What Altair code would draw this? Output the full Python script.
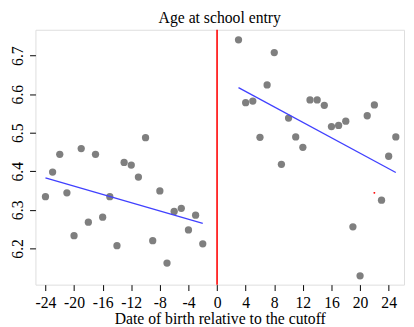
import altair as alt
import pandas as pd

# Binned means, left of cutoff
left_x = list(range(-24, -1))
left_y = [6.334, 6.398, 6.444, 6.344, 6.233, 6.459, 6.268, 6.444, 6.281, 6.334,
          6.207, 6.423, 6.416, 6.385, 6.487, 6.220, 6.349, 6.162, 6.296, 6.304,
          6.248, 6.286, 6.212]
# Binned means, right of cutoff
right_x = list(range(3, 26))
right_y = [6.741, 6.578, 6.582, 6.488, 6.624, 6.708, 6.418, 6.538, 6.489, 6.462,
           6.585, 6.585, 6.571, 6.516, 6.519, 6.530, 6.256, 6.129, 6.544, 6.572,
           6.325, 6.439, 6.489]
# Fitted lines (endpoints)
fit_left_x = [-24, -2]
fit_left_y = [6.383, 6.265]
fit_right_x = [3, 25]
fit_right_y = [6.617, 6.397]
# small red marker
red_pt_x = [22]
red_pt_y = [6.344]
cutoff = [0]

x_ticks = list(range(-24, 25, 4))
y_ticks = [6.2, 6.3, 6.4, 6.5, 6.6, 6.7]

pts = pd.DataFrame({"x": left_x + right_x, "y": left_y + right_y})
fits = pd.DataFrame({
    "x": fit_left_x + fit_right_x,
    "y": fit_left_y + fit_right_y,
    "side": ["left", "left", "right", "right"],
})
red = pd.DataFrame({"x": red_pt_x, "y": red_pt_y})
cut = pd.DataFrame({"x": cutoff})

FONT = "Liberation Serif"

xscale = alt.Scale(domain=[-25.4, 26.15], nice=False, zero=False)
yscale = alt.Scale(domain=[6.106, 6.767], nice=False, zero=False)

xaxis = alt.Axis(title="Date of birth relative to the cutoff", values=x_ticks,
                 labelExpr="'' + datum.value", grid=False, domain=False,
                 tickColor="black", tickSize=6, labelPadding=4, labelFontSize=16,
                 labelColor="black", titleFontSize=16, titleColor="black",
                 titleFontWeight="normal", titlePadding=1, labelFont=FONT, titleFont=FONT,
                 labelFlush=False, labelOverlap=False, labelSeparation=0)
yaxis = alt.Axis(title=None, values=y_ticks,
                 labelExpr="format(datum.value, '.1f')", grid=False, domain=False,
                 tickColor="black", tickSize=6, labelPadding=4, labelFontSize=16,
                 labelColor="black", labelAngle=-90, labelFont=FONT,
                 labelFlush=False, labelOverlap=False)

points = alt.Chart(pts).mark_circle(color="#7f7f7f", opacity=1, size=55).encode(
    x=alt.X("x:Q", scale=xscale, axis=xaxis),
    y=alt.Y("y:Q", scale=yscale, axis=yaxis),
)

lines = alt.Chart(fits).mark_line(color="#4040ff", strokeWidth=1.3).encode(
    x=alt.X("x:Q", scale=xscale, axis=xaxis),
    y=alt.Y("y:Q", scale=yscale, axis=yaxis),
    detail="side:N",
)

redpt = alt.Chart(red).mark_circle(color="red", opacity=1, size=4).encode(
    x=alt.X("x:Q", scale=xscale, axis=xaxis),
    y=alt.Y("y:Q", scale=yscale, axis=yaxis),
)

rule = alt.Chart(cut).mark_rule(color="red", strokeWidth=1.6).encode(
    x=alt.X("x:Q", scale=xscale, axis=xaxis),
)

chart = alt.layer(points, lines, redpt, rule).properties(
    width=376,
    height=260,
    title=alt.TitleParams("Age at school entry", font=FONT, fontSize=16,
                          fontWeight="normal", color="black", offset=3, anchor="middle"),
    autosize=alt.AutoSizeParams(type="none"),
    padding={"left": 28, "top": 19, "right": 2, "bottom": 40},
).configure_view(stroke="black", strokeWidth=1).configure_axis(
    labelOverlap=False
).configure(background="white")

chart.save("out.html", embed_options={"renderer": "svg", "actions": False})
